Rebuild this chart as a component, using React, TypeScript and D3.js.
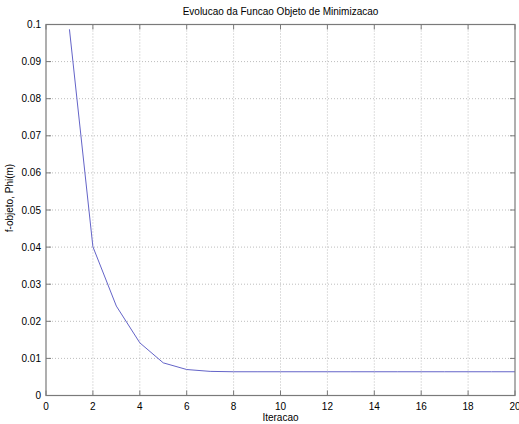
import React from "react";
import * as d3 from "d3";

const iterations = [1, 2, 3, 4, 5, 6, 7, 8, 9, 10, 11, 12, 13, 14, 15, 16, 17, 18, 19, 20];
const fValues = [0.0987, 0.0401, 0.0241, 0.0142, 0.0088, 0.0070, 0.0065, 0.0064, 0.0064, 0.0064, 0.0064, 0.0064, 0.0064, 0.0064, 0.0064, 0.0064, 0.0064, 0.0064, 0.0064, 0.0064];
const xTicks = [0, 2, 4, 6, 8, 10, 12, 14, 16, 18, 20];
const yTicks = [0, 0.01, 0.02, 0.03, 0.04, 0.05, 0.06, 0.07, 0.08, 0.09, 0.1];
const title = "Evolucao da Funcao Objeto de Minimizacao";
const xLabel = "Iteracao";
const yLabel = "f-objeto, Phi(m)";

const W = 519, H = 424;
const L = 46, R = 515, T = 24.5, B = 395.5;

export default function App() {
  const x = d3.scaleLinear().domain([0, 20]).range([L, R]);
  const y = d3.scaleLinear().domain([0, 0.1]).range([B, T]);
  const line = d3.line<number>().x((_, i) => x(iterations[i])).y((d) => y(d));
  const font = "'Liberation Sans', Arial, Helvetica, sans-serif";
  const axisColor = "#7a7a7a";
  const gridColor = "#bdbdbd";
  return (
    <svg width={W} height={H} style={{ position: "absolute", left: 0, top: 0, background: "#fff" }} fontFamily={font}>
      <rect x={0} y={0} width={W} height={H} fill="#fff" />
      {xTicks.slice(1, -1).map((t) => (
        <line key={"gx" + t} x1={x(t)} x2={x(t)} y1={T} y2={B} stroke={gridColor} strokeWidth={1} strokeDasharray="1,2" />
      ))}
      {yTicks.slice(1, -1).map((t) => (
        <line key={"gy" + t} x1={L} x2={R} y1={y(t)} y2={y(t)} stroke={gridColor} strokeWidth={1} strokeDasharray="1,2" />
      ))}
      <path d={line(fValues) || ""} fill="none" stroke="#6464c8" strokeWidth={1} />
      <rect x={L} y={T} width={R - L} height={B - T} fill="none" stroke={axisColor} strokeWidth={1.2} />
      {xTicks.map((t) => (
        <g key={"tx" + t}>
          <line x1={x(t)} x2={x(t)} y1={B} y2={B - 5} stroke={axisColor} />
          <line x1={x(t)} x2={x(t)} y1={T} y2={T + 5} stroke={axisColor} />
          <text x={x(t)} y={B + 14} textAnchor="middle" fontSize={10} fill="#000">{t}</text>
        </g>
      ))}
      {yTicks.map((t) => (
        <g key={"ty" + t}>
          <line x1={L} x2={L + 5} y1={y(t)} y2={y(t)} stroke={axisColor} />
          <line x1={R} x2={R - 5} y1={y(t)} y2={y(t)} stroke={axisColor} />
          <text x={L - 5} y={y(t) + 3.5} textAnchor="end" fontSize={10} fill="#000">{t === 0 ? "0" : d3.format("")(+t.toFixed(2))}</text>
        </g>
      ))}
      <text x={(L + R) / 2} y={15} textAnchor="middle" fontSize={10} fill="#000">{title}</text>
      <text x={(L + R) / 2} y={421} textAnchor="middle" fontSize={10} fill="#000">{xLabel}</text>
      <text transform={`translate(13,${(T + B) / 2 - 12}) rotate(-90)`} textAnchor="middle" fontSize={10} fill="#000">{yLabel}</text>
    </svg>
  );
}
